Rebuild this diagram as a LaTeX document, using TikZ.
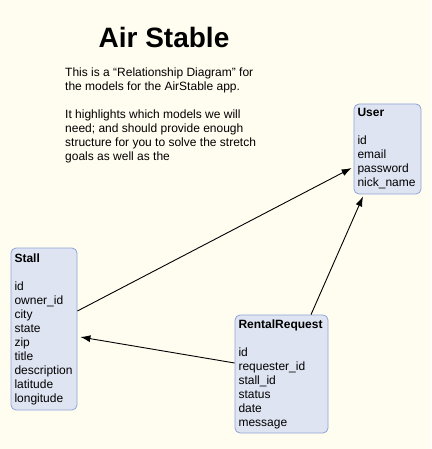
\documentclass[tikz,border=0pt]{standalone}
\usepackage{fontspec}
\setmainfont{Liberation Sans}
\usetikzlibrary{arrows.meta}
\definecolor{bgcol}{HTML}{FFFDF0}
\definecolor{boxfill}{HTML}{DFE4F2}
\definecolor{boxline}{HTML}{8FA3D6}
\tikzset{
  model/.style={draw=boxline, fill=boxfill, rounded corners=5pt, line width=0.8pt,
    align=left, inner xsep=3.5pt, inner ysep=0pt, anchor=center,
    font=\fontsize{12}{14}\selectfont},
  rel/.style={-{Latex[length=10pt,width=7pt]}, line width=0.9pt, black},
  bodytext/.style={align=left, inner sep=0pt, anchor=north west,
    font=\fontsize{12}{14}\selectfont}
}
\begin{document}
\begin{tikzpicture}[x=1pt,y=-1pt]
\fill[bgcol] (0,0) rectangle (431,449);
\useasboundingbox (0,0) rectangle (431,449);
\node[font=\fontsize{28}{34}\selectfont\bfseries, inner sep=0pt] (title) at (164,37) {Air Stable};
\node[bodytext] (intro) at (65,66.5) {\strut This is a “Relationship Diagram” for\\
the models for the AirStable app.\\[14pt]
It highlights which models we will\\
need; and should provide enough\\
structure for you to solve the stretch\\
goals as well as the};
\node[model, minimum width=67pt, minimum height=90pt, text width=60pt] (user) at (387.5,149)
  {\textbf{User}\\[14pt]id\\email\\password\\nick\_name};
\node[model, minimum width=66pt, minimum height=162pt, text width=59pt] (stall) at (44,329)
  {\textbf{Stall}\\[14pt]id\\owner\_id\\city\\state\\zip\\title\\description\\latitude\\longitude};
\node[model, minimum width=93pt, minimum height=118pt, text width=86pt] (rr) at (281.5,374)
  {\textbf{RentalRequest}\\[14pt]id\\requester\_id\\stall\_id\\status\\date\\message};
\draw[rel] ([yshift=18pt]stall.east) -- ([xshift=-2pt,yshift=-19pt]user.west);
\draw[rel] ([yshift=11pt]rr.west) -- ([xshift=3pt,yshift=-8pt]stall.east);
\draw[rel] ([xshift=29.5pt]rr.north) -- ([xshift=-24.5pt,yshift=-2pt]user.south);
\end{tikzpicture}
\end{document}
